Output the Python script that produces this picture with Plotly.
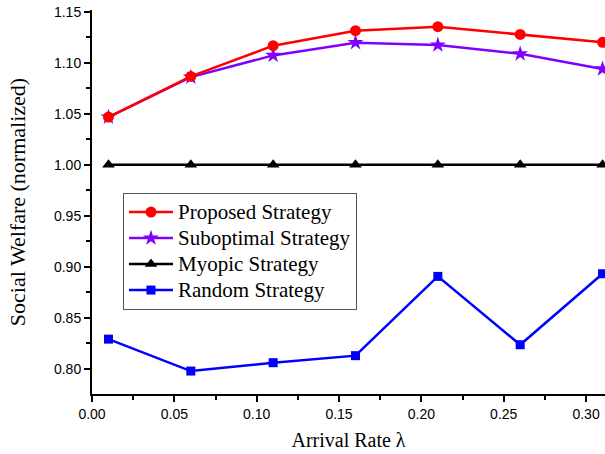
import plotly.graph_objects as go

arrival_rate = [0.01, 0.06, 0.11, 0.16, 0.21, 0.26, 0.31]
proposed = [1.0467, 1.0866, 1.1167, 1.1314, 1.1353, 1.1278, 1.1200]
suboptimal = [1.0467, 1.0859, 1.1072, 1.1197, 1.1174, 1.1087, 1.0939]
myopic = [1.0, 1.0, 1.0, 1.0, 1.0, 1.0, 1.0]
random_s = [0.8290, 0.7977, 0.8059, 0.8128, 0.8905, 0.8235, 0.8931]

names = ["Proposed Strategy", "Suboptimal Strategy", "Myopic Strategy", "Random Strategy"]
series = [proposed, suboptimal, myopic, random_s]
colors = ["#ff0000", "#8000ff", "#000000", "#0000ff"]
symbols = ["circle", "star", "triangle-up", "square"]
sizes = [11, 12, 11, 9]

fig = go.Figure()
# add in reverse so the proposed line is drawn on top; legend order reversed back
for n, s, c, sym, sz in list(zip(names, series, colors, symbols, sizes))[::-1]:
    fig.add_trace(go.Scatter(
        x=arrival_rate, y=s, name='<span style="font-size:21px">' + n + '</span>',
        mode="lines+markers",
        line=dict(color=c, width=2.5),
        marker=dict(symbol=sym, size=sz, color=c),
    ))

serif = "Liberation Serif"
sans = "Liberation Sans"

fig.update_layout(
    width=605, height=454,
    margin=dict(l=92, r=0, t=10, b=60),
    paper_bgcolor="white", plot_bgcolor="white",
    showlegend=True,
    legend=dict(
        x=0.0604, y=0.5234, xanchor="left", yanchor="top",
        bordercolor="#555555", borderwidth=1, bgcolor="white",
        font=dict(family=serif, size=17.7, color="black"),
        traceorder="reversed", itemwidth=44,
    ),
    xaxis=dict(
        range=[0, 0.3115], tickvals=[0, 0.05, 0.10, 0.15, 0.20, 0.25, 0.30],
        ticktext=["0.00", "0.05", "0.10", "0.15", "0.20", "0.25", "0.30"],
        ticks="outside", ticklen=6, tickwidth=1.5, tickcolor="black",
        minor=dict(tickvals=[0.025, 0.075, 0.125, 0.175, 0.225, 0.275], ticks="outside", ticklen=4, tickwidth=1.5, tickcolor="black"),
        showline=True, linecolor="black", linewidth=2, showgrid=False, zeroline=False,
        tickfont=dict(family=sans, size=14, color="black"),
        title=dict(text="Arrival Rate λ", font=dict(family=serif, size=20, color="black"), standoff=12),
    ),
    yaxis=dict(
        range=[0.7752, 1.1517],
        tickvals=[0.80, 0.85, 0.90, 0.95, 1.00, 1.05, 1.10, 1.15],
        ticktext=["0.80", "0.85", "0.90", "0.95", "1.00", "1.05", "1.10", "1.15"],
        ticks="outside", ticklen=6, tickwidth=1.5, tickcolor="black",
        minor=dict(tickvals=[0.775, 0.825, 0.875, 0.925, 0.975, 1.025, 1.075, 1.125], ticks="outside", ticklen=4, tickwidth=1.5, tickcolor="black"),
        showline=True, linecolor="black", linewidth=2, showgrid=False, zeroline=False,
        tickfont=dict(family=sans, size=14, color="black"),
        title=dict(text="Social Welfare (normalized)", font=dict(family=serif, size=22, color="black"), standoff=22),
    ),
)

fig.write_html("out.html")
